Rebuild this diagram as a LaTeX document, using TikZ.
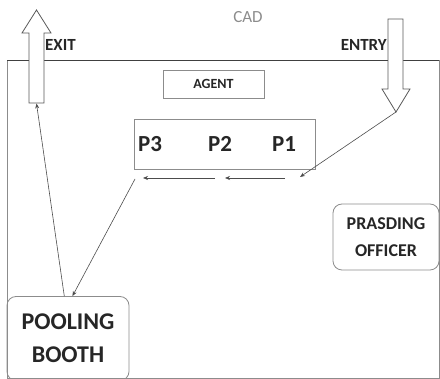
\documentclass[tikz,border=0pt]{standalone}
\usepackage{fontspec}
\setmainfont{Carlito}
\usetikzlibrary{arrows.meta}

\newcommand{\fsz}[1]{\fontsize{#1}{#1}\selectfont}

\begin{document}
\begin{tikzpicture}[x=1pt,y=1pt]
		\tikzstyle{box_style} = [draw=black!45, line width=0.8pt, inner sep=0pt, text=black!85, font=\bfseries]
		\tikzstyle{round_style} = [box_style, rounded corners=9pt, align=center]
		\tikzstyle{label_style} = [inner sep=0pt, text=black!85, font=\bfseries]
		\tikzstyle{edge_style} = [draw=black!70, line width=0.6pt, -{Stealth[length=5pt,width=4pt]}]
		\tikzstyle{block_style} = [draw=black!65, line width=0.8pt, fill=white]
		\useasboundingbox (0,0) rectangle (440,-379);
		% room
		\draw[black!45, line width=0.6pt] (7,-60) rectangle (439,-378.5);
		\draw[black!75, line width=0.8pt] (7,-60) -- (439,-60);
		% labels
		\node[label_style, text=black!45, font=\fsz{17}] (cad) at (248,-17) {CAD};
		\node[label_style, font=\fsz{17}\bfseries, anchor=west] (exit) at (45,-45) {EXIT};
		\node[label_style, font=\fsz{17}\bfseries, anchor=east] (entry) at (387,-45) {ENTRY};
		% boxes
		\node[box_style, minimum width=101pt, minimum height=28pt, font=\fsz{14}\bfseries] (agent) at (213.5,-84) {AGENT};
		\node[box_style, minimum width=181pt, minimum height=50pt] (queue) at (224.5,-144) {};
		\node[label_style, font=\fsz{23}\bfseries] (p3) at (150,-144) {P3};
		\node[label_style, font=\fsz{23}\bfseries] (p2) at (220,-144) {P2};
		\node[label_style, font=\fsz{23}\bfseries] (p1) at (284,-144) {P1};
		\node[round_style, minimum width=122pt, minimum height=84pt, font=\fsz{24}\bfseries] (booth) at (68,-338.5) {POOLING\\[9pt]BOOTH};
		\node[round_style, minimum width=106pt, minimum height=66pt, font=\fsz{18}\bfseries] (officer) at (386,-237) {PRASDING\\[9pt]OFFICER};
		% block arrows
		\draw[block_style] (29,-103) -- (29,-33) -- (22,-33) -- (36.5,-10) -- (51,-33) -- (44,-33) -- (44,-103) -- cycle;
		\draw[block_style] (388,-19) -- (388,-89) -- (382,-89) -- (396,-112) -- (410,-89) -- (403,-89) -- (403,-19) -- cycle;
		\coordinate (exit_tail) at (36.5,-103.5);
		\coordinate (entry_tip) at (396,-112);
		% queue moves
		\coordinate (q1) at (300,-177);
		\coordinate (q2a) at (285,-178);
		\coordinate (q2b) at (225,-178);
		\coordinate (q3a) at (215,-178);
		\coordinate (q3b) at (143,-178);
		\coordinate (q4) at (135,-179);
		\draw[edge_style] (entry_tip) -- (q1);
		\draw[edge_style] (q2a) -- (q2b);
		\draw[edge_style] (q3a) -- (q3b);
		\draw[edge_style] (q4) -- (booth.84);
		\draw[edge_style] (booth.95) -- (exit_tail);
\end{tikzpicture}
\end{document}
